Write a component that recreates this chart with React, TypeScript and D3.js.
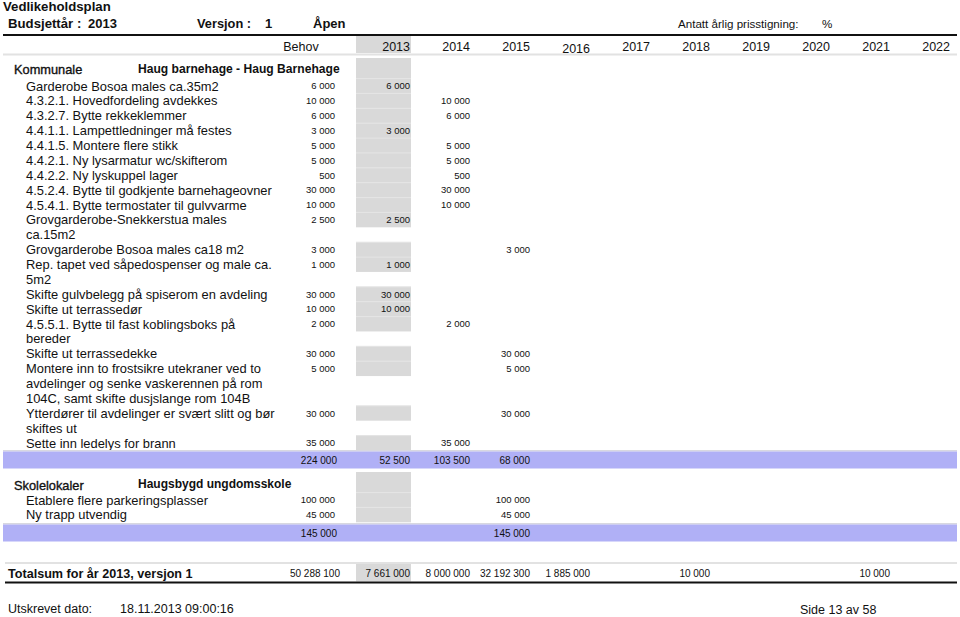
import React from "react";
import * as d3 from "d3";

const years = ["2013", "2014", "2015", "2016", "2017", "2018", "2019", "2020", "2021", "2022"];

const kommunaleLabels: string[][] = [
  ["Garderobe Bosoa males ca.35m2"],
  ["4.3.2.1. Hovedfordeling avdekkes"],
  ["4.3.2.7. Bytte rekkeklemmer"],
  ["4.4.1.1. Lampettledninger må festes"],
  ["4.4.1.5. Montere flere stikk"],
  ["4.4.2.1. Ny lysarmatur wc/skifterom"],
  ["4.4.2.2. Ny lyskuppel lager"],
  ["4.5.2.4. Bytte til godkjente barnehageovner"],
  ["4.5.4.1. Bytte termostater til gulvvarme"],
  ["Grovgarderobe-Snekkerstua males", "ca.15m2"],
  ["Grovgarderobe Bosoa males ca18 m2"],
  ["Rep. tapet ved såpedospenser og male ca.", "5m2"],
  ["Skifte gulvbelegg på spiserom en avdeling"],
  ["Skifte ut terrassedør"],
  ["4.5.5.1. Bytte til fast koblingsboks på", "bereder"],
  ["Skifte ut terrassedekke"],
  ["Montere inn to frostsikre utekraner ved to", "avdelinger og senke vaskerennen på rom", "104C, samt skifte dusjslange rom 104B"],
  ["Ytterdører til avdelinger er svært slitt og bør", "skiftes ut"],
  ["Sette inn ledelys for brann"],
];
const kommunaleBehov = [6000, 10000, 6000, 3000, 5000, 5000, 500, 30000, 10000, 2500, 3000, 1000, 30000, 10000, 2000, 30000, 5000, 30000, 35000];
const kommunaleYear = ["2013", "2014", "2014", "2013", "2014", "2014", "2014", "2014", "2014", "2013", "2015", "2013", "2013", "2013", "2014", "2015", "2015", "2015", "2014"];
const kommunalePlanned = [6000, 10000, 6000, 3000, 5000, 5000, 500, 30000, 10000, 2500, 3000, 1000, 30000, 10000, 2000, 30000, 5000, 30000, 35000];
const kommunaleSubBehov = 224000;
const kommunaleSubYears: (number | null)[] = [52500, 103500, 68000, null, null, null, null, null, null, null];

const skoleLabels: string[][] = [["Etablere flere parkeringsplasser"], ["Ny trapp utvendig"]];
const skoleBehov = [100000, 45000];
const skoleYear = ["2015", "2015"];
const skolePlanned = [100000, 45000];
const skoleSubBehov = 145000;
const skoleSubYears: (number | null)[] = [null, null, 145000, null, null, null, null, null, null, null];

const totalBehov = 50288100;
const totalYears: (number | null)[] = [7661000, 8000000, 32192300, 1885000, null, 10000, null, null, 10000, null];

const FONT = "'Liberation Sans', Arial, sans-serif";
const GRAY = "#d9d9d9";
const SEP = "#e4e4e4";
const BAND = "#b0b0f6";

const fmt = d3
  .formatLocale({ decimal: ",", thousands: " ", grouping: [3], currency: ["", ""] })
  .format(",d");

export default function App() {
  const W = 960;
  const H = 617;
  const xYear = d3.scalePoint<string>().domain(years).range([410, 950]);
  const behovX = 335;
  const grayX0 = 356;
  const grayX1 = 411;
  const lineH = 14.875;
  const yK = d3.scaleLinear().domain([0, 1]).range([86, 86 + lineH]);
  const yS = d3.scaleLinear().domain([0, 1]).range([500, 500 + lineH]);

  const kStart: number[] = [];
  let acc = 0;
  kommunaleLabels.forEach((l) => {
    kStart.push(acc);
    acc += l.length;
  });
  const sStart: number[] = [];
  let acc2 = 0;
  skoleLabels.forEach((l) => {
    sStart.push(acc2);
    acc2 += l.length;
  });

  const numText = (x: number, cy: number, v: number | null, size = 9.5, key?: string) =>
    v == null ? null : (
      <text key={key} x={x} y={cy + size * 0.35} fontSize={size} textAnchor="end" fill="#111">
        {fmt(v)}
      </text>
    );

  const renderItems = (
    labels: string[][],
    starts: number[],
    behov: number[],
    yr: string[],
    planned: number[],
    y: d3.ScaleLinear<number, number>,
    prefix: string
  ) =>
    labels.map((lines, i) => {
      const cy = y(starts[i]);
      return (
        <g key={prefix + i}>
          <rect x={grayX0} y={cy - lineH / 2} width={grayX1 - grayX0} height={lineH} fill={GRAY} />
          <line x1={grayX0} x2={grayX1} y1={cy - lineH / 2} y2={cy - lineH / 2} stroke={SEP} strokeWidth={1} />
          {lines.map((t, j) => (
            <text key={j} x={26} y={y(starts[i] + j) + 4.6} fontSize={12.9} fill="#111">
              {t}
            </text>
          ))}
          {numText(behovX, cy, behov[i])}
          {numText(xYear(yr[i])!, cy, planned[i])}
        </g>
      );
    });

  const band = (cy: number, behov: number, vals: (number | null)[], key: string) => (
    <g key={key}>
      <rect x={3} y={cy - 10} width={954} height={1.5} fill="#d8d8e0" />
      <rect x={3} y={cy - 8.5} width={954} height={17} fill={BAND} />
      {numText(337, cy, behov, 10)}
      {vals.map((v, i) => numText(xYear(years[i])!, cy, v, 10, "b" + i))}
    </g>
  );

  const kBandY = 460;
  const sBandY = 533;
  const totY = 573;

  return (
    <svg
      width={W}
      height={H}
      viewBox={`0 0 ${W} ${H}`}
      style={{ position: "absolute", left: 0, top: 0, background: "#fff" }}
      fontFamily={FONT}
    >
      <rect width={W} height={H} fill="#fff" />
      {/* Title block */}
      <text x={3} y={11} fontSize={13.2} fontWeight="bold" fill="#111">Vedlikeholdsplan</text>
      <text x={8} y={28} fontSize={13.2} fontWeight="bold" fill="#111">Budsjettår :</text>
      <text x={88} y={28} fontSize={13} fontWeight="bold" fill="#111">2013</text>
      <text x={197} y={28} fontSize={12.8} fontWeight="bold" fill="#111">Versjon :</text>
      <text x={265} y={28} fontSize={13} fontWeight="bold" fill="#111">1</text>
      <text x={313} y={28} fontSize={13} fontWeight="bold" fill="#111">Åpen</text>
      <text x={678} y={28} fontSize={11.6} fill="#111">Antatt årlig prisstigning:</text>
      <text x={822} y={28} fontSize={11.6} fill="#111">%</text>
      <rect x={3} y={34} width={954} height={2} fill="#111" />

      {/* Header */}
      <rect x={grayX0} y={36} width={grayX1 - grayX0} height={17} fill={GRAY} />
      <text x={301} y={51} fontSize={12.5} textAnchor="middle" fill="#111">Behov</text>
      {years.map((yv) => (
        <text key={yv} x={xYear(yv)} y={yv === "2016" ? 53 : 51} fontSize={12.5} textAnchor="end" fill="#111">
          {yv}
        </text>
      ))}
      <rect x={3} y={53.5} width={954} height={2} fill="#e2e2e2" />

      {/* Kommunale section */}
      <rect x={grayX0} y={58} width={grayX1 - grayX0} height={20.5} fill={GRAY} />
      <text x={14} y={74} fontSize={12.8} stroke="#111" strokeWidth={0.35} fill="#111">Kommunale</text>
      <text x={138} y={73} fontSize={12.1} fontWeight="bold" fill="#111">Haug barnehage - Haug Barnehage</text>
      {renderItems(kommunaleLabels, kStart, kommunaleBehov, kommunaleYear, kommunalePlanned, yK, "k")}
      {band(kBandY, kommunaleSubBehov, kommunaleSubYears, "kb")}

      {/* Skolelokaler section */}
      <rect x={grayX0} y={472} width={grayX1 - grayX0} height={20.5} fill={GRAY} />
      <text x={14} y={490} fontSize={12.8} stroke="#111" strokeWidth={0.35} fill="#111">Skolelokaler</text>
      <text x={138} y={488} fontSize={12} fontWeight="bold" fill="#111">Haugsbygd ungdomsskole</text>
      {renderItems(skoleLabels, sStart, skoleBehov, skoleYear, skolePlanned, yS, "s")}
      {band(sBandY, skoleSubBehov, skoleSubYears, "sb")}

      {/* Totals */}
      <rect x={5} y={562} width={952} height={2} fill="#e2e2e2" />
      <rect x={grayX0} y={564} width={grayX1 - grayX0} height={17.5} fill={GRAY} />
      <text x={8} y={578} fontSize={12.6} fontWeight="bold" fill="#111">Totalsum for år 2013, versjon 1</text>
      {numText(340, totY, totalBehov, 10)}
      {totalYears.map((v, i) => numText(xYear(years[i])!, totY, v, 10, "t" + i))}
      <rect x={5} y={581.5} width={952} height={2} fill="#111" />

      {/* Footer */}
      <text x={8} y={612.5} fontSize={12.5} fill="#111">Utskrevet dato:</text>
      <text x={120} y={612.5} fontSize={12.5} fill="#111">18.11.2013 09:00:16</text>
      <text x={800} y={614} fontSize={12.5} fill="#111">Side 13 av 58</text>
    </svg>
  );
}
